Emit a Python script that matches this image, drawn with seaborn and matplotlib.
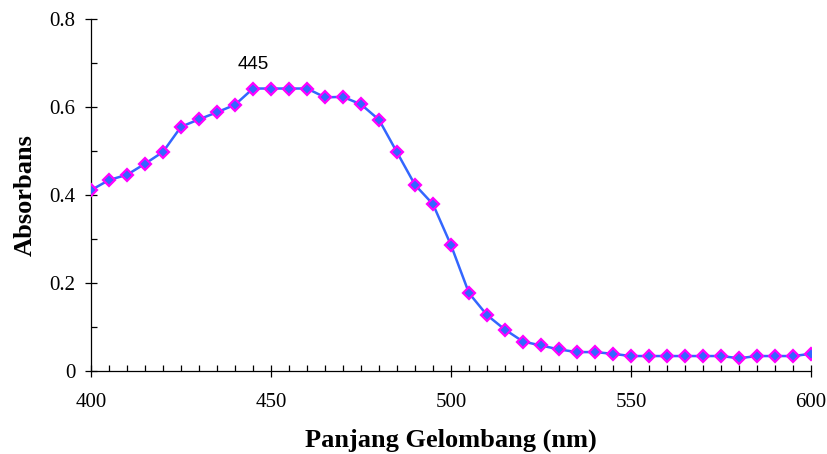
import matplotlib
matplotlib.use("Agg")
import matplotlib.pyplot as plt
import seaborn as sns
import pandas as pd
import numpy as np
from matplotlib.ticker import MultipleLocator, FuncFormatter

wavelength = list(range(400, 605, 5))
absorbance = [0.411, 0.434, 0.446, 0.471, 0.498, 0.555, 0.572, 0.588, 0.605, 0.642,
              0.642, 0.642, 0.642, 0.622, 0.623, 0.606, 0.571, 0.497, 0.423, 0.379,
              0.286, 0.177, 0.127, 0.094, 0.067, 0.058, 0.049, 0.043, 0.043, 0.039,
              0.034, 0.034, 0.034, 0.034, 0.034, 0.034, 0.029, 0.034, 0.034, 0.034,
              0.039]
peak_label = "445"
peak_x = 445
x_label = "Panjang Gelombang (nm)"
y_label = "Absorbans"

df = pd.DataFrame({"wl": wavelength, "abs": absorbance})

sns.set_theme(style="ticks")
plt.rcParams["font.family"] = ["Liberation Serif", "DejaVu Serif"]
plt.rcParams["text.color"] = "black"
plt.rcParams["axes.labelcolor"] = "black"

fig = plt.figure(figsize=(8.28, 4.54), dpi=100)
ax = fig.add_axes([91/828, 1-371/454, 720/828, 352/454])

sns.lineplot(data=df, x="wl", y="abs", ax=ax, color="#3366FF", linewidth=1.8,
             marker="D", markersize=6.6, markerfacecolor="#3366FF",
             markeredgecolor="#FF00FF", markeredgewidth=1.6, zorder=3)

ax.set_xlim(400, 600)
ax.set_ylim(0, 0.8)
ax.xaxis.set_major_locator(MultipleLocator(50))
ax.xaxis.set_minor_locator(MultipleLocator(5))
ax.yaxis.set_major_locator(MultipleLocator(0.2))
ax.yaxis.set_minor_locator(MultipleLocator(0.1))
ax.yaxis.set_major_formatter(FuncFormatter(lambda v, p: "%g" % round(v, 2)))

for s in ["top", "right"]:
    ax.spines[s].set_visible(False)
for s in ["left", "bottom"]:
    ax.spines[s].set_linewidth(0.9)
    ax.spines[s].set_color("black")

ax.tick_params(which="major", direction="inout", length=8, width=0.9,
               labelsize=15, colors="black", labelcolor="black")
ax.tick_params(which="minor", direction="in", length=4.3, width=0.9, colors="black")
ax.tick_params(axis="x", which="major", pad=12)
ax.tick_params(axis="y", which="major", pad=7)

ax.set_xlabel(x_label, fontsize=19, fontweight="bold", labelpad=12)
ax.set_ylabel(y_label, fontsize=19, fontweight="bold", labelpad=9)

ax.text(peak_x, 0.678, peak_label, ha="center", va="bottom", fontsize=13.5,
        color="black", family=["Liberation Sans", "DejaVu Sans"])

ax.grid(False)
fig.savefig("out.png", dpi=100, facecolor="white")
